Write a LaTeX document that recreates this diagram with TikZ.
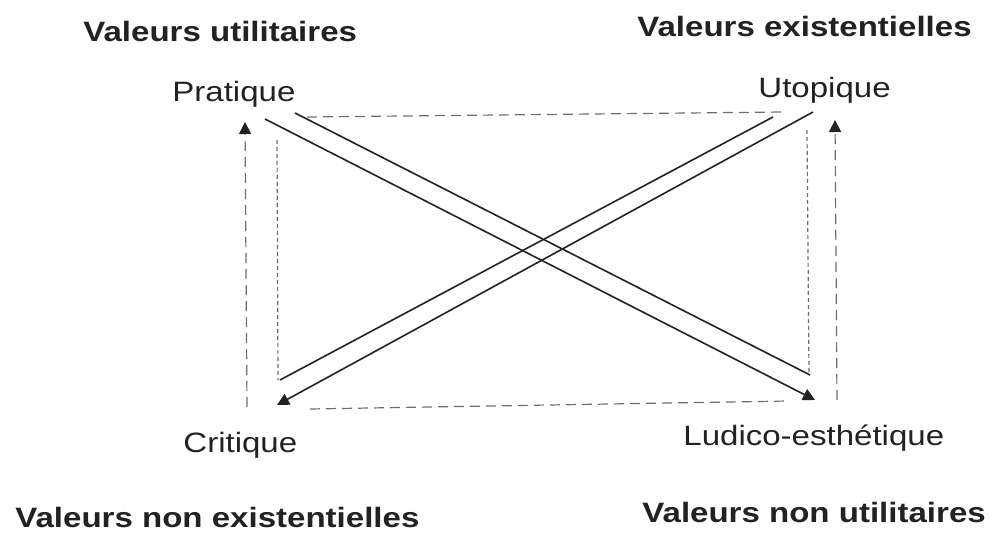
\documentclass[tikz,border=0pt]{standalone}
\usepackage{fontspec}
\setmainfont{Liberation Sans}[FakeStretch=1.18]
\usepackage{tikz}
\usetikzlibrary{arrows.meta}
\definecolor{SqInk}{HTML}{222222}
\definecolor{SqGrey}{HTML}{6E6E6E}
\tikzset{term/.style={anchor=base west,inner sep=0pt,font=\fontsize{14}{16}\selectfont,text=SqInk}, valeur/.style={term,font=\fontsize{14}{16}\selectfont\bfseries}, contra/.style={draw=SqInk,line width=0.8pt}, tip/.style={-{Triangle[length=6pt,width=6pt,color=SqInk]}}, relation/.style={draw=SqGrey,line width=0.6pt,dash pattern=on 5pt off 3pt}, implication/.style={draw=SqGrey,line width=0.6pt,dash pattern=on 2pt off 1.5pt}}

\begin{document}
\begin{tikzpicture}[x=0.5pt,y=-0.5pt]
\useasboundingbox (0,0) rectangle (995,534);
\node[valeur] (vu) at (83,42) {Valeurs utilitaires};
\node[valeur] (ve) at (637,37) {Valeurs existentielles};
\node[valeur] (vne) at (15,527) {Valeurs non existentielles};
\node[valeur] (vnu) at (642,522) {Valeurs non utilitaires};
\node[term] (prat) at (172,102) {Pratique};
\node[term] (utop) at (758,98) {Utopique};
\node[term] (crit) at (183,452) {Critique};
\node[term] (ludi) at (683,445) {Ludico-esthétique};
% extremites des traits
\coordinate (p1) at (265,119); \coordinate (p2) at (295,113);
\coordinate (u1) at (773,117); \coordinate (u2) at (813,112);
\coordinate (c1) at (280,380); \coordinate (c2) at (277,405);
\coordinate (l1) at (815,400); \coordinate (l2) at (810,375);
\coordinate (pt) at (307,117); \coordinate (ut) at (783,112);
\coordinate (cb) at (310,409); \coordinate (lb) at (788,401);
\coordinate (pa) at (245,122); \coordinate (ca) at (247,407);
\coordinate (pi) at (277,140); \coordinate (ci) at (278,380);
\coordinate (ui) at (807,130); \coordinate (li) at (809,375);
\coordinate (ua) at (835,120); \coordinate (la) at (837,400);
% contradictions
\draw[contra,tip] (p1)--(l1);
\draw[contra] (p2)--(l2);
\draw[contra] (c1)--(u1);
\draw[contra,tip] (u2)--(c2);
% contrarietes et implications
\foreach \src/\dst in {pt/ut,cb/lb}{\draw[relation] (\src)--(\dst);}
\foreach \src/\dst in {ca/pa,la/ua}{\draw[relation,tip] (\src)--(\dst);}
\foreach \src/\dst in {pi/ci,ui/li}{\draw[implication] (\src)--(\dst);}
\end{tikzpicture}
\end{document}
